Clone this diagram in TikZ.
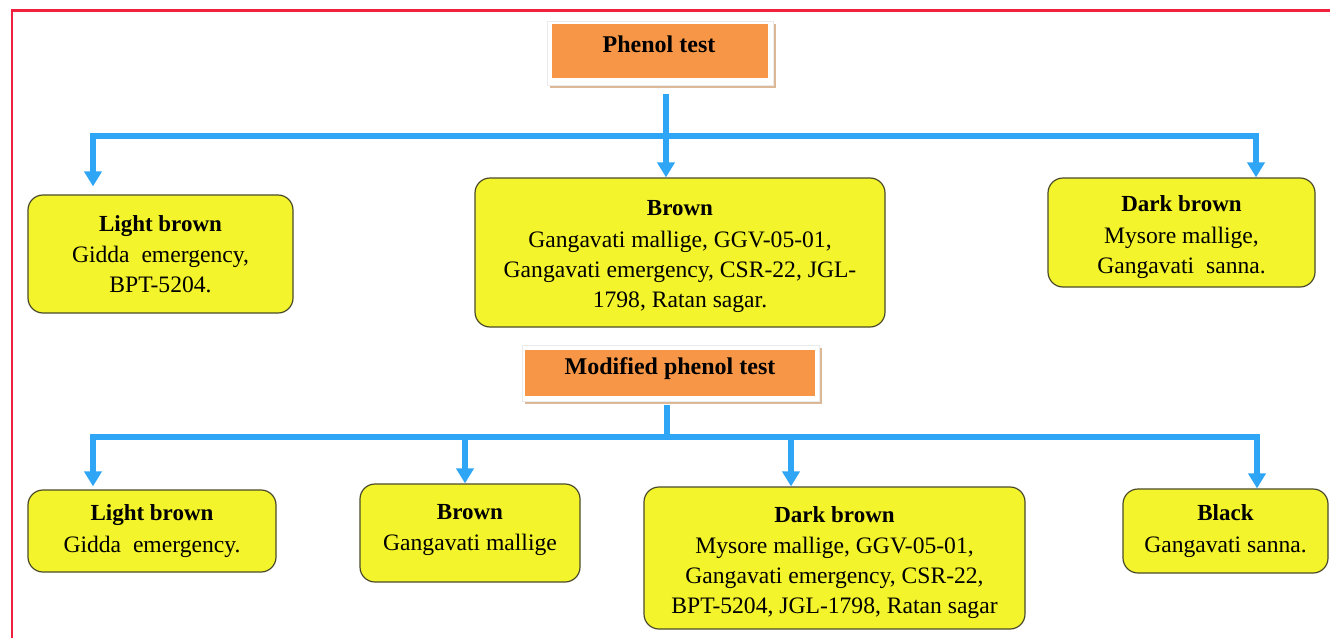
\documentclass[tikz,border=0pt]{standalone}
\usepackage{fontspec}
\setmainfont{Liberation Serif}
\usetikzlibrary{arrows.meta,calc}
\definecolor{borderred}{HTML}{F0203F}
\definecolor{orangefill}{HTML}{F79646}
\definecolor{yellowfill}{HTML}{F4F42C}
\definecolor{boxline}{HTML}{4A4A2A}
\definecolor{arrowblue}{HTML}{2FA5F5}
\definecolor{shadowtan}{HTML}{DDB896}
\newcommand{\hd}[2][15pt]{\rule{0pt}{#1}{\fontsize{23}{30}\selectfont\bfseries #2}\\[1.5pt]}
\begin{document}
\begin{tikzpicture}[x=1pt,y=-1pt,
  ybox/.style={draw=boxline, fill=yellowfill, line width=1.2pt, rounded corners=15pt, align=center, font=\fontsize{23.6}{30}\selectfont, inner sep=0pt},
  obox/.style={fill=orangefill, inner sep=0pt},
  conn/.style={draw=arrowblue, line width=5.5pt, line join=miter},
  arr/.style={conn, -{Triangle[width=17pt,length=15pt]}},
  ttl/.style={font=\fontsize{24}{28}\selectfont\bfseries, inner sep=0pt}
]
\useasboundingbox (0,0) rectangle (1330,637);
\fill[white] (0,0) rectangle (1330,637);
% red border
\draw[borderred, line width=2.2pt] (12,640) -- (12,10.5) -- (1332,10.5);

% Phenol test header
\fill[shadowtan] (550,24) rectangle (776,88);
\filldraw[fill=white, draw=black!8] (547,21) rectangle (773,85);
\node[obox, minimum width=216pt, minimum height=54pt] (ph) at (660,51) {};
\node[ttl] (pht) at (659,44) {Phenol test};

% top row boxes
\node[ybox, minimum width=265pt, minimum height=118pt] (lb1) at (160.5,254)
  {\hd{Light brown}Gidda\ \ emergency,\\BPT-5204.};
\node[ybox, minimum width=410pt, minimum height=149pt] (br1) at (680,252.5)
  {\hd[22.7pt]{Brown}Gangavati mallige, GGV-05-01,\\Gangavati emergency, CSR-22, JGL-\\1798, Ratan sagar.};
\node[ybox, minimum width=267pt, minimum height=109pt] (db1) at (1181.5,232.5)
  {\hd[24.7pt]{Dark brown}Mysore mallige,\\Gangavati\ \ sanna.};

% top connectors
\coordinate (j1) at (666,136);
\draw[conn] ([shift={(6,16)}]ph.south) -- (j1);
\draw[arr] (j1) -- (j1 |- br1.north);
\draw[arr] (j1) -| ([shift={(-67.5,-8)}]lb1.north);
\draw[arr] (j1) -| ([xshift=74.5pt]db1.north);

% Modified phenol test header
\fill[shadowtan] (525,348) rectangle (822,404);
\filldraw[fill=white, draw=black!8] (522,345) rectangle (819,401);
\node[obox, minimum width=290pt, minimum height=46pt] (mp) at (670,373) {};
\node[ttl] (mpt) at (670,369) {Modified phenol test};

% bottom row boxes
\node[ybox, minimum width=248pt, minimum height=82pt] (lb2) at (152,531)
  {\hd{Light brown}Gidda\ \ emergency.};
\node[ybox, minimum width=220pt, minimum height=98pt] (br2) at (470,533)
  {\hd{Brown}Gangavati mallige\rule[-11.5pt]{0pt}{11.5pt}};
\node[ybox, minimum width=381pt, minimum height=142pt] (db2) at (834.5,558)
  {\hd[24.7pt]{Dark brown}Mysore mallige, GGV-05-01,\\Gangavati emergency, CSR-22,\\BPT-5204, JGL-1798, Ratan sagar};
\node[ybox, minimum width=205pt, minimum height=84pt] (bk2) at (1225.5,531)
  {\hd{Black}Gangavati sanna.};

% bottom connectors
\coordinate (j2) at (667,437);
\draw[conn] ([shift={(-3,9)}]mp.south) -- (j2);
\draw[arr] (j2) -| ([shift={(-59,-3)}]lb2.north);
\draw[arr] (j2) -| ([xshift=-5pt]br2.north);
\draw[arr] (j2) -| ([xshift=-43.5pt]db2.north);
\draw[arr] (j2) -| ([xshift=31.5pt]bk2.north);
\end{tikzpicture}
\end{document}
